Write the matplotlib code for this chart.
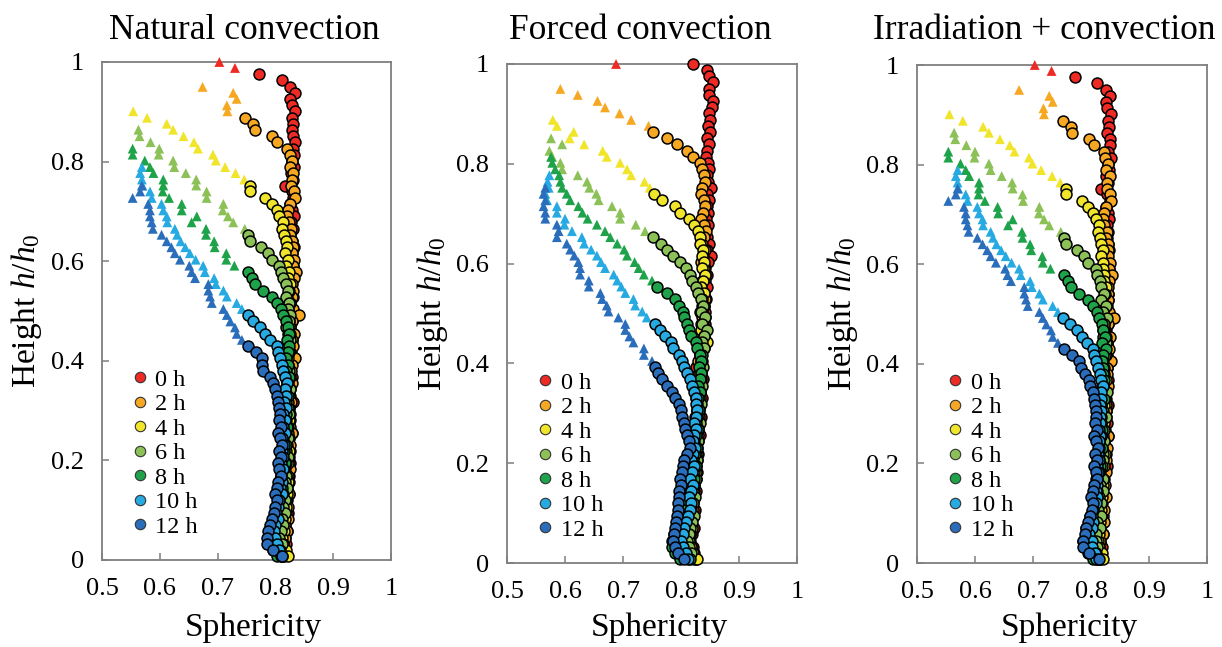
import matplotlib
matplotlib.use('Agg')
import matplotlib.pyplot as plt
from matplotlib.lines import Line2D

plt.rcParams['font.family'] = ['Liberation Serif', 'DejaVu Serif']
plt.rcParams['mathtext.fontset'] = 'custom'
plt.rcParams['mathtext.rm'] = 'Liberation Serif'
plt.rcParams['mathtext.it'] = 'Liberation Serif:italic'

# ---------------- data ----------------
TITLES = ['Natural convection', 'Forced convection', 'Irradiation + convection']
SERIES_LABELS = ['0 h', '2 h', '4 h', '6 h', '8 h', '10 h', '12 h']
COLORS = ['#EE2A24', '#F7A823', '#F0E52A', '#8CC157', '#1FA34A', '#27AAE1', '#2A6EBB']
X_TICKS = [0.5, 0.6, 0.7, 0.8, 0.9, 1.0]
X_TICK_LABELS = ['0.5', '0.6', '0.7', '0.8', '0.9', '1']
Y_TICKS = [0.0, 0.2, 0.4, 0.6, 0.8, 1.0]
Y_TICK_LABELS = ['0', '0.2', '0.4', '0.6', '0.8', '1']

# height levels h/h0 (top to bottom)
LEVELS = [1.000, 0.988, 0.975, 0.963, 0.950, 0.938, 0.926, 0.913, 0.901, 0.888,
          0.876, 0.864, 0.851, 0.839, 0.826, 0.814, 0.802, 0.789, 0.777, 0.764,
          0.752, 0.740, 0.727, 0.715, 0.702, 0.690, 0.678, 0.665, 0.653, 0.640,
          0.628, 0.616, 0.603, 0.591, 0.578, 0.566, 0.554, 0.541, 0.529, 0.516,
          0.504, 0.492, 0.479, 0.467, 0.454, 0.442, 0.430, 0.417, 0.405, 0.392,
          0.380, 0.368, 0.355, 0.343, 0.330, 0.318, 0.306, 0.293, 0.281, 0.268,
          0.256, 0.244, 0.231, 0.219, 0.206, 0.194, 0.182, 0.169, 0.157, 0.144,
          0.132, 0.120, 0.107, 0.095, 0.082, 0.070, 0.058, 0.045, 0.033, 0.020,
          0.008]

# ---- Natural convection: triangles (top level first) and circles (down to bottom)
nat_tri_top = [1.000, 0.950, 0.901, 0.864, 0.826, 0.789, 0.752]
nat_tri_0 = [0.703, 0.730]
nat_cir_0 = [0.772, 0.812, 0.825, 0.834, 0.825, 0.829, 0.834, 0.828, 0.830, 0.828, 0.831, 0.834,
             0.830, 0.833, 0.829, 0.832, 0.827, 0.830, 0.817,
             0.828, 0.831, 0.826, 0.829, 0.832, 0.827, 0.830, 0.826, 0.829, 0.832,
             0.828, 0.825, 0.830, 0.827, 0.829, 0.824, 0.828, 0.831, 0.826, 0.828,
             0.825, 0.829, 0.826, 0.823, 0.828, 0.825, 0.827, 0.822, 0.826, 0.824,
             0.828, 0.825, 0.822, 0.826, 0.831, 0.824, 0.821, 0.826, 0.823, 0.828,
             0.824, 0.821, 0.825, 0.822, 0.826, 0.820, 0.824, 0.821, 0.819, 0.823,
             0.820, 0.818, 0.822, 0.819, 0.817, 0.820, 0.816, 0.818, 0.815, 0.812]
nat_tri_2 = [0.674, 0.727, 0.733, 0.716, 0.717]
nat_cir_2 = [0.748, 0.762, 0.764, 0.794, 0.803, 0.820,
             0.825, 0.828, 0.826, 0.831, 0.829, 0.827, 0.833, 0.834, 0.826, 0.822,
             0.820, 0.824, 0.827, 0.826, 0.829, 0.831, 0.828, 0.833, 0.830, 0.835,
             0.832, 0.829, 0.831, 0.828, 0.826, 0.830, 0.840, 0.828, 0.825, 0.832,
             0.828, 0.830, 0.826, 0.834, 0.829, 0.827, 0.824, 0.828, 0.826, 0.823,
             0.827, 0.824, 0.826, 0.822, 0.825, 0.828, 0.823, 0.826, 0.821, 0.824,
             0.822, 0.825, 0.821, 0.823, 0.820, 0.824, 0.819, 0.822, 0.818, 0.821,
             0.817, 0.820, 0.816, 0.813, 0.810, 0.815]
nat_tri_4 = [0.554, 0.578, 0.612, 0.623, 0.641, 0.659, 0.666, 0.692, 0.697, 0.713, 0.731, 0.746]
nat_cir_4 = [0.756, 0.756, 0.782, 0.794, 0.802, 0.807, 0.813,
             0.811, 0.815, 0.818, 0.820, 0.817, 0.822, 0.819, 0.824, 0.821, 0.826,
             0.823, 0.820, 0.825, 0.822, 0.819, 0.823, 0.821, 0.826, 0.822, 0.820,
             0.824, 0.821, 0.818, 0.822, 0.825, 0.820, 0.823, 0.819, 0.822, 0.818,
             0.821, 0.824, 0.819, 0.822, 0.817, 0.820, 0.823, 0.818, 0.821, 0.816,
             0.819, 0.822, 0.817, 0.820, 0.815, 0.818, 0.814, 0.817, 0.812, 0.815,
             0.811, 0.814, 0.818, 0.822]
nat_tri_6 = [0.563, 0.565, 0.584, 0.599, 0.598, 0.623, 0.625, 0.645, 0.663, 0.663, 0.681, 0.681,
             0.710, 0.709, 0.718, 0.727, 0.747]
nat_cir_6 = [0.753, 0.756, 0.775, 0.787, 0.794, 0.807, 0.810,
             0.814, 0.819, 0.822, 0.818, 0.824, 0.821, 0.826, 0.823, 0.819, 0.822,
             0.825, 0.820, 0.823, 0.818, 0.821, 0.824, 0.819, 0.822, 0.826, 0.820,
             0.817, 0.821, 0.824, 0.819, 0.822, 0.818, 0.821, 0.816, 0.819, 0.822,
             0.818, 0.815, 0.819, 0.816, 0.820, 0.814, 0.817, 0.813, 0.816, 0.811,
             0.814, 0.810, 0.807, 0.811, 0.808, 0.812]
nat_tri_8 = [0.553, 0.553, 0.574, 0.583, 0.589, 0.606, 0.606, 0.605, 0.616, 0.638, 0.638, 0.664,
             0.655, 0.680, 0.680, 0.694, 0.695, 0.715, 0.715, 0.729]
nat_cir_8 = [0.753, 0.759, 0.765, 0.779, 0.794, 0.802,
             0.809, 0.814, 0.818, 0.821, 0.823, 0.820, 0.824, 0.821, 0.818, 0.822,
             0.819, 0.823, 0.820, 0.817, 0.821, 0.818, 0.815, 0.819, 0.816, 0.820,
             0.817, 0.814, 0.818, 0.815, 0.812, 0.816, 0.813, 0.810, 0.808, 0.812,
             0.809, 0.806, 0.803, 0.800, 0.797, 0.793, 0.790, 0.788, 0.791, 0.795,
             0.803]
nat_tri_10 = [0.569, 0.566, 0.569, 0.570, 0.583, 0.586, 0.603, 0.606, 0.612, 0.613, 0.626, 0.630,
              0.636, 0.644, 0.652, 0.662, 0.675, 0.678, 0.694, 0.697, 0.710, 0.716, 0.733, 0.742]
nat_cir_10 = [0.753, 0.762, 0.773, 0.782, 0.791, 0.802, 0.805, 0.808, 0.811, 0.814, 0.817, 0.820,
              0.816, 0.819, 0.815, 0.818, 0.814, 0.817, 0.813, 0.816, 0.812, 0.815,
              0.811, 0.814, 0.810, 0.813, 0.809, 0.812, 0.808, 0.811, 0.807, 0.804,
              0.801, 0.804, 0.800, 0.797, 0.800, 0.803, 0.806, 0.810]
nat_tri_12 = [0.569, 0.566, 0.553, 0.580, 0.583, 0.583, 0.586, 0.588, 0.603, 0.612, 0.620, 0.626,
              0.635, 0.651, 0.655, 0.661, 0.684, 0.684, 0.687, 0.690, 0.710, 0.716, 0.722, 0.730,
              0.733, 0.742]
nat_cir_12 = [0.753, 0.766, 0.776, 0.777, 0.779, 0.791, 0.795, 0.799, 0.802, 0.804, 0.806, 0.808,
              0.806, 0.809, 0.805, 0.808, 0.811, 0.806, 0.809, 0.804, 0.807, 0.810,
              0.805, 0.802, 0.799, 0.803, 0.800, 0.797, 0.794, 0.791, 0.788, 0.786,
              0.785, 0.795, 0.812]

# ---- Forced convection
for_tri_top = [1.000, 0.950, 0.888, 0.851, 0.814, 0.777, 0.752]
for_tri_0 = [0.688]
for_cir_0 = [0.821, 0.844, 0.848, 0.855, 0.848, 0.848, 0.855, 0.853, 0.848, 0.850, 0.846, 0.850,
             0.845, 0.848, 0.845, 0.843,
             0.846, 0.849, 0.844, 0.847, 0.851, 0.845, 0.848, 0.844, 0.847, 0.843,
             0.846, 0.842, 0.845, 0.849, 0.844, 0.851, 0.846, 0.842, 0.845, 0.841,
             0.844, 0.840, 0.843, 0.839, 0.842, 0.838, 0.841, 0.837, 0.840, 0.836,
             0.839, 0.835, 0.832, 0.825, 0.834, 0.838, 0.835, 0.832, 0.836, 0.833,
             0.830, 0.834, 0.831, 0.828, 0.832, 0.829, 0.826, 0.830, 0.827, 0.824,
             0.828, 0.825, 0.822, 0.826, 0.823, 0.820, 0.824, 0.821, 0.818, 0.822,
             0.819, 0.816, 0.820, 0.823, 0.826]
for_tri_2 = [0.592, 0.622, 0.656, 0.669, 0.694, 0.714, 0.744]
for_cir_2 = [0.752, 0.776, 0.793, 0.810, 0.821, 0.832, 0.836, 0.839, 0.841, 0.837,
             0.834, 0.839, 0.842, 0.838, 0.835, 0.840, 0.843, 0.839, 0.836, 0.841,
             0.838, 0.835, 0.839, 0.842, 0.837, 0.834, 0.838, 0.841, 0.836, 0.833,
             0.837, 0.834, 0.838, 0.835, 0.832, 0.836, 0.833, 0.830, 0.834, 0.831,
             0.828, 0.832, 0.829, 0.826, 0.830, 0.827, 0.824, 0.828, 0.825, 0.822,
             0.826, 0.823, 0.820, 0.824, 0.821, 0.818, 0.822, 0.819, 0.816, 0.820,
             0.817, 0.814, 0.818, 0.815, 0.812, 0.816, 0.813, 0.817, 0.820, 0.823]
for_tri_4 = [0.579, 0.586, 0.615, 0.608, 0.633, 0.665, 0.672, 0.695, 0.707, 0.714, 0.737, 0.746]
for_cir_4 = [0.754, 0.767, 0.790, 0.798, 0.813, 0.823, 0.830, 0.832, 0.833, 0.838,
             0.836, 0.840, 0.837, 0.841, 0.838, 0.835, 0.839, 0.836, 0.840, 0.837,
             0.842, 0.838, 0.835, 0.839, 0.845, 0.836, 0.833, 0.837, 0.834, 0.831,
             0.835, 0.832, 0.829, 0.833, 0.830, 0.827, 0.831, 0.828, 0.825, 0.829,
             0.826, 0.823, 0.827, 0.824, 0.821, 0.825, 0.822, 0.819, 0.823, 0.820,
             0.817, 0.821, 0.818, 0.815, 0.819, 0.816, 0.813, 0.817, 0.821, 0.828]
for_tri_6 = [0.576, 0.595, 0.573, 0.578, 0.592, 0.595, 0.622, 0.638, 0.642, 0.654, 0.658, 0.681,
             0.695, 0.695, 0.722, 0.738]
for_cir_6 = [0.751, 0.766, 0.776, 0.786, 0.798, 0.809, 0.816, 0.819, 0.826,
             0.830, 0.834, 0.838, 0.835, 0.841, 0.837, 0.845, 0.839, 0.836, 0.840,
             0.837, 0.834, 0.838, 0.835, 0.832, 0.836, 0.833, 0.830, 0.834, 0.831,
             0.828, 0.832, 0.829, 0.826, 0.830, 0.827, 0.824, 0.828, 0.825, 0.822,
             0.826, 0.823, 0.820, 0.824, 0.821, 0.818, 0.822, 0.819, 0.816, 0.813,
             0.810, 0.814, 0.818, 0.815]
for_tri_8 = [0.576, 0.578, 0.583, 0.590, 0.592, 0.595, 0.603, 0.609, 0.623, 0.630, 0.639, 0.655,
             0.669, 0.678, 0.690, 0.702, 0.707, 0.720, 0.727, 0.736, 0.750]
for_cir_8 = [0.759, 0.776, 0.790, 0.797, 0.804, 0.805, 0.810, 0.813, 0.817, 0.825, 0.828, 0.832,
             0.834, 0.831, 0.835, 0.832, 0.829, 0.833, 0.830, 0.827, 0.831, 0.828,
             0.825, 0.829, 0.826, 0.823, 0.827, 0.824, 0.821, 0.825, 0.816, 0.822,
             0.819, 0.816, 0.812, 0.808, 0.804, 0.800, 0.796, 0.792, 0.788, 0.785,
             0.784, 0.790, 0.798]
for_tri_10 = [0.573, 0.570, 0.572, 0.566, 0.569, 0.586, 0.586, 0.600, 0.599, 0.612, 0.629, 0.633,
              0.645, 0.655, 0.662, 0.669, 0.684, 0.690, 0.697, 0.704, 0.718, 0.721, 0.733, 0.741]
for_cir_10 = [0.756, 0.764, 0.773, 0.782, 0.787, 0.796, 0.802, 0.805, 0.810, 0.816, 0.819, 0.822,
              0.825,
              0.826, 0.828, 0.825, 0.822, 0.826, 0.823, 0.820, 0.824, 0.821, 0.818,
              0.822, 0.819, 0.816, 0.820, 0.817, 0.814, 0.818, 0.815, 0.812, 0.809,
              0.806, 0.803, 0.800, 0.804, 0.808, 0.812]
for_tri_12 = [0.566, 0.563, 0.566, 0.563, 0.566, 0.566, 0.586, 0.589, 0.586, 0.603, 0.609, 0.616,
              0.623, 0.626, 0.626, 0.641, 0.641, 0.661, 0.664, 0.672, 0.675, 0.692, 0.704, 0.704,
              0.711, 0.718, 0.736, 0.736, 0.750]
for_cir_12 = [0.756, 0.761, 0.767, 0.776, 0.784, 0.790, 0.796, 0.800, 0.802, 0.805, 0.807, 0.810,
              0.813, 0.815, 0.811, 0.806, 0.803, 0.801, 0.799, 0.800, 0.797, 0.796, 0.794, 0.795,
              0.793, 0.791, 0.790, 0.788, 0.787, 0.789, 0.795, 0.805]

# ---- Irradiation + convection
irr_tri_top = [1.000, 0.950, 0.901, 0.864, 0.826, 0.789, 0.752]
irr_tri_0 = [0.703, 0.732]
irr_cir_0 = [0.772, 0.811, 0.826, 0.833, 0.826, 0.828, 0.834, 0.829, 0.831, 0.828, 0.832, 0.833,
             0.829, 0.834, 0.830, 0.831, 0.826, 0.829, 0.818,
             0.827, 0.832, 0.825, 0.830, 0.831, 0.828, 0.829, 0.827, 0.830, 0.831,
             0.827, 0.826, 0.831, 0.826, 0.830, 0.825, 0.829, 0.830, 0.827, 0.829,
             0.824, 0.830, 0.825, 0.824, 0.827, 0.826, 0.828, 0.821, 0.827, 0.823,
             0.829, 0.824, 0.823, 0.825, 0.830, 0.825, 0.822, 0.827, 0.822, 0.829,
             0.823, 0.822, 0.826, 0.821, 0.827, 0.821, 0.823, 0.822, 0.818, 0.824,
             0.819, 0.819, 0.821, 0.820, 0.816, 0.821, 0.815, 0.819, 0.814, 0.813]
irr_tri_2 = [0.676, 0.728, 0.734, 0.718, 0.719]
irr_cir_2 = [0.752, 0.766, 0.768, 0.797, 0.806, 0.822,
             0.824, 0.829, 0.825, 0.832, 0.828, 0.828, 0.832, 0.835, 0.825, 0.823,
             0.821, 0.823, 0.828, 0.825, 0.830, 0.830, 0.829, 0.832, 0.831, 0.836,
             0.831, 0.830, 0.830, 0.829, 0.825, 0.831, 0.839, 0.829, 0.824, 0.833,
             0.827, 0.831, 0.825, 0.835, 0.828, 0.828, 0.823, 0.829, 0.825, 0.824,
             0.826, 0.825, 0.825, 0.823, 0.824, 0.829, 0.822, 0.827, 0.820, 0.825,
             0.821, 0.826, 0.820, 0.824, 0.819, 0.825, 0.818, 0.823, 0.817, 0.822,
             0.816, 0.821, 0.815, 0.814, 0.809, 0.816]
irr_tri_4 = [0.556, 0.579, 0.614, 0.624, 0.643, 0.660, 0.668, 0.693, 0.699, 0.714, 0.733, 0.747]
irr_cir_4 = [0.757, 0.757, 0.784, 0.795, 0.803, 0.808, 0.814,
             0.812, 0.816, 0.817, 0.821, 0.818, 0.821, 0.820, 0.823, 0.822, 0.825,
             0.824, 0.819, 0.826, 0.821, 0.820, 0.822, 0.822, 0.825, 0.823, 0.819,
             0.825, 0.820, 0.819, 0.821, 0.826, 0.819, 0.824, 0.818, 0.823, 0.817,
             0.822, 0.823, 0.820, 0.821, 0.818, 0.819, 0.824, 0.817, 0.822, 0.815,
             0.820, 0.821, 0.818, 0.819, 0.816, 0.817, 0.815, 0.816, 0.813, 0.814,
             0.812, 0.813, 0.819, 0.821]
irr_tri_6 = [0.564, 0.566, 0.585, 0.600, 0.599, 0.624, 0.627, 0.646, 0.664, 0.665, 0.682, 0.683,
             0.711, 0.710, 0.719, 0.728, 0.748]
irr_cir_6 = [0.754, 0.757, 0.776, 0.788, 0.795, 0.808, 0.811,
             0.815, 0.818, 0.823, 0.817, 0.825, 0.820, 0.827, 0.822, 0.820, 0.821,
             0.826, 0.819, 0.824, 0.817, 0.822, 0.823, 0.820, 0.821, 0.827, 0.819,
             0.818, 0.820, 0.825, 0.818, 0.823, 0.817, 0.822, 0.815, 0.820, 0.821,
             0.819, 0.814, 0.820, 0.815, 0.821, 0.813, 0.818, 0.812, 0.817, 0.810,
             0.815, 0.809, 0.808, 0.810, 0.809, 0.811]
irr_tri_8 = [0.554, 0.554, 0.575, 0.584, 0.590, 0.607, 0.607, 0.606, 0.617, 0.639, 0.640, 0.665,
             0.657, 0.681, 0.682, 0.695, 0.697, 0.716, 0.717, 0.730]
irr_cir_8 = [0.754, 0.760, 0.766, 0.780, 0.795, 0.803,
             0.810, 0.813, 0.819, 0.820, 0.824, 0.819, 0.825, 0.820, 0.819, 0.821,
             0.820, 0.822, 0.821, 0.816, 0.822, 0.817, 0.816, 0.818, 0.817, 0.819,
             0.818, 0.813, 0.819, 0.814, 0.813, 0.815, 0.814, 0.809, 0.809, 0.811,
             0.810, 0.805, 0.804, 0.799, 0.798, 0.792, 0.791, 0.787, 0.792, 0.794,
             0.804]
irr_tri_10 = [0.570, 0.567, 0.570, 0.571, 0.584, 0.587, 0.604, 0.607, 0.613, 0.614, 0.627, 0.631,
              0.637, 0.645, 0.653, 0.663, 0.676, 0.679, 0.695, 0.698, 0.711, 0.717, 0.734, 0.743]
irr_cir_10 = [0.752, 0.764, 0.775, 0.784, 0.793, 0.803, 0.806, 0.809, 0.812, 0.815, 0.818, 0.821,
              0.817, 0.818, 0.816, 0.817, 0.815, 0.816, 0.814, 0.815, 0.813, 0.814,
              0.812, 0.813, 0.811, 0.812, 0.810, 0.811, 0.809, 0.810, 0.808, 0.803,
              0.802, 0.803, 0.801, 0.796, 0.801, 0.802, 0.807, 0.809]
irr_tri_12 = [0.570, 0.567, 0.554, 0.581, 0.584, 0.584, 0.587, 0.589, 0.604, 0.613, 0.621, 0.627,
              0.636, 0.652, 0.656, 0.662, 0.685, 0.685, 0.688, 0.691, 0.711, 0.717, 0.723, 0.731,
              0.734, 0.743]
irr_cir_12 = [0.754, 0.768, 0.779, 0.783, 0.790, 0.796, 0.799, 0.803, 0.805, 0.807, 0.808, 0.809,
              0.807, 0.810, 0.806, 0.809, 0.812, 0.807, 0.810, 0.805, 0.808, 0.811,
              0.806, 0.803, 0.800, 0.804, 0.801, 0.798, 0.795, 0.792, 0.789, 0.787,
              0.786, 0.796, 0.813]

PANELS = [
    (nat_tri_top, [nat_tri_0, nat_tri_2, nat_tri_4, nat_tri_6, nat_tri_8, nat_tri_10, nat_tri_12],
     [nat_cir_0, nat_cir_2, nat_cir_4, nat_cir_6, nat_cir_8, nat_cir_10, nat_cir_12]),
    (for_tri_top, [for_tri_0, for_tri_2, for_tri_4, for_tri_6, for_tri_8, for_tri_10, for_tri_12],
     [for_cir_0, for_cir_2, for_cir_4, for_cir_6, for_cir_8, for_cir_10, for_cir_12]),
    (irr_tri_top, [irr_tri_0, irr_tri_2, irr_tri_4, irr_tri_6, irr_tri_8, irr_tri_10, irr_tri_12],
     [irr_cir_0, irr_cir_2, irr_cir_4, irr_cir_6, irr_cir_8, irr_cir_10, irr_cir_12]),
]

assert len(LEVELS) == 81

# ---------------- figure ----------------
W, H = 1222, 647
fig = plt.figure(figsize=(W / 100, H / 100), dpi=100)

# axes boxes in pixels: left, right, top, bottom
BOXES = [(102, 391, 62, 560), (507, 797, 64, 563), (917, 1207, 65, 563)]
TITLE_X = [244, 640, 1044]
SPINE_COLOR = '#7f7f7f'

for p, (box, (tri_top, tris, cirs)) in enumerate(zip(BOXES, PANELS)):
    l, r, t, b = box
    ax = fig.add_axes([l / W, 1 - b / H, (r - l) / W, (b - t) / H])
    ax.set_xlim(0.5, 1.0)
    ax.set_ylim(0.0, 1.0)
    for i in range(7):
        tri = tris[i]
        cir = cirs[i]
        i0 = LEVELS.index(tri_top[i])
        th = LEVELS[i0:i0 + len(tri)]
        assert len(th) == len(tri)
        ch = LEVELS[len(LEVELS) - len(cir):]
        ax.scatter(tri, th, marker='^', s=50, color=COLORS[i], edgecolors='none',
                   zorder=3 + 2 * i, clip_on=False)
        ax.scatter(cir, ch, marker='o', s=62, facecolors=COLORS[i], edgecolors='black',
                   linewidths=1.1, zorder=4 + 2 * i, clip_on=False)

    ax.set_xticks(X_TICKS)
    ax.set_xticklabels(X_TICK_LABELS)
    ax.set_yticks(Y_TICKS)
    ax.set_yticklabels(Y_TICK_LABELS)
    ax.tick_params(axis='x', pad=13)
    ax.tick_params(axis='y', pad=13)
    ax.tick_params(axis='both', direction='in', length=5, width=1.1, color=SPINE_COLOR,
                   labelsize=19, top=False, right=False)
    for sp in ax.spines.values():
        sp.set_color(SPINE_COLOR)
        sp.set_linewidth(1.3)

    handles = [Line2D([], [], marker='o', linestyle='', markersize=7.5,
                      markerfacecolor=COLORS[i], markeredgecolor='#333333',
                      markeredgewidth=0.8) for i in range(7)]
    ax.legend(handles, SERIES_LABELS, loc='lower left', bbox_to_anchor=(0.105, 0.045),
              frameon=False, fontsize=17.5, handlelength=0.6, handletextpad=0.35,
              labelspacing=0.1, borderpad=0, borderaxespad=0)

    fig.text(TITLE_X[p] / W, 1 - 39 / H, TITLES[p], fontsize=25.5, ha='center', va='baseline')
    fig.text(((l + r) / 2 + 7) / W, 1 - 636 / H, 'Sphericity', fontsize=24, ha='center',
             va='baseline')
    fig.text((l - 75) / W, 1 - ((t + b) / 2) / H, r'Height $h/h_{\mathit{0}}$', fontsize=24,
             rotation=90, ha='center', va='center')

fig.savefig('out.png', dpi=100)
